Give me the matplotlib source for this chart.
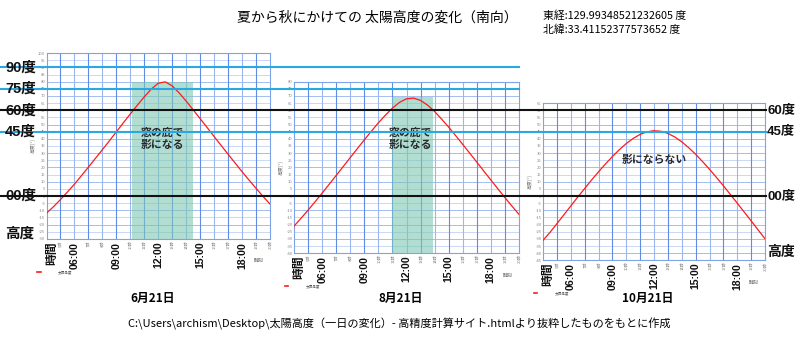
import matplotlib
matplotlib.use("Agg")
import matplotlib.pyplot as plt
from matplotlib.lines import Line2D
from matplotlib import transforms

plt.rcParams['font.family'] = ['Noto Sans CJK JP', 'DejaVu Sans']

# time of day (hours), every 30 minutes from 4:00 to 20:00
times = [4.0, 4.5, 5.0, 5.5, 6.0, 6.5, 7.0, 7.5, 8.0, 8.5, 9.0, 9.5, 10.0, 10.5,
         11.0, 11.5, 12.0, 12.5, 13.0, 13.5, 14.0, 14.5, 15.0, 15.5, 16.0, 16.5,
         17.0, 17.5, 18.0, 18.5, 19.0, 19.5, 20.0]

# solar altitude (degrees)
alt_jun = [-12.0, -7.5, -2.5, 2.8, 8.3, 14.2, 20.2, 26.3, 32.4, 38.6, 44.9, 51.2,
           57.4, 63.5, 69.4, 74.8, 78.9, 79.9, 77.0, 72.1, 66.4, 60.3, 54.1, 47.9,
           41.6, 35.4, 29.2, 23.1, 17.0, 11.1, 5.4, -0.3, -5.6]
alt_aug = [-21.1, -15.6, -9.9, -4.0, 2.0, 8.2, 14.4, 20.6, 26.9, 33.1, 39.3, 45.3,
           51.2, 56.6, 61.5, 65.5, 68.0, 68.5, 66.9, 63.6, 59.1, 53.8, 48.2, 42.2,
           36.1, 29.9, 23.7, 17.4, 11.2, 5.0, -1.1, -7.1, -12.9]
alt_oct = [-31.0, -25.5, -19.4, -13.2, -7.0, -0.8, 5.2, 11.2, 16.9, 22.4, 27.6, 32.4,
           36.7, 40.3, 43.1, 44.9, 45.7, 45.3, 43.8, 41.3, 37.9, 33.8, 29.2, 24.1,
           18.7, 13.0, 7.2, 1.1, -5.0, -11.2, -17.4, -23.7, -29.9]

dates = ['6月21日', '8月21日', '10月21日']
series = [alt_jun, alt_aug, alt_oct]
ylims = [(-30, 100), (-40, 80), (-45, 65)]

# hours where the eaves shade the window (None = no shade)
shade_start = [10.1, 10.95, None]
shade_end = [14.5, 13.85, None]
shade_top = [80, 69, None]
notes = ['窓の庇で\n影になる', '窓の庇で\n影になる', '影にならない']
note_pos = [(12.3, 40), (12.3, 40), (12.0, 25)]

major_hours = [6, 9, 12, 15, 18]
major_labels = ['06:00', '09:00', '12:00', '15:00', '18:00']

ref_vals = [90, 75, 60, 45, 0]
ref_labels = ['90度', '75度', '60度', '45度', '00度']
ref_colors = ['#2aa8e2', '#2aa8e2', '#111111', '#2aa8e2', '#111111']
ref_end_px = [519, 519, 766, 766, 766]
right_labels = {60: '60度', 45: '45度', 0: '00度'}

W, H = 798, 340
fig = plt.figure(figsize=(W / 100, H / 100), dpi=100)
fig.patch.set_facecolor('white')

panel_px = [(46.5, 270), (294, 519), (543, 765)]
zero_py = 196.0
ppu = 1.429  # pixels per degree

narrow = ['Liberation Sans Narrow', 'Liberation Sans', 'Noto Sans CJK JP']
axes = []
for i, (x0, x1) in enumerate(panel_px):
    ymin, ymax = ylims[i]
    top = zero_py - ymax * ppu
    bot = zero_py - ymin * ppu
    ax = fig.add_axes([x0 / W, 1 - bot / H, (x1 - x0) / W, (bot - top) / H])
    axes.append(ax)
    ax.set_xlim(4, 20)
    ax.set_ylim(ymin, ymax)

    for v in range(ymin, ymax + 1, 5):
        c = '#93b3ee' if v % 10 == 0 else '#bfd2f5'
        ax.axhline(v, color=c, lw=0.6, zorder=1)
    for h in range(5, 20):
        c = '#5f8ce6' if h % 2 == 1 else '#9ab8ef'
        ax.axvline(h, color=c, lw=0.8, zorder=1)
    for s in ax.spines.values():
        s.set_color('#7ea3ea')
        s.set_linewidth(0.8)

    if shade_start[i] is not None:
        ax.fill_between([shade_start[i], shade_end[i]], ymin, shade_top[i],
                        color='#7fc8b4', alpha=0.6, lw=0, zorder=1.5)

    ax.plot(times, series[i], color='#ff1a1a', lw=0.9, zorder=3)

    nx, ny = note_pos[i]
    ax.text(nx, ny, notes[i], ha='center', va='center', fontsize=7.8,
            color='#2a2a2a', fontweight='bold', linespacing=1.15, zorder=4)

    yt = list(range(ymin, ymax + 1, 5))
    ax.set_yticks(yt)
    ax.set_yticklabels([str(v) for v in yt])
    hrs = [h for h in range(5, 21) if h not in major_hours]
    ax.set_xticks(hrs)
    ax.set_xticklabels([f'{h}時' for h in hrs], rotation=90)
    ax.tick_params(length=0, labelsize=3, colors='#888888', pad=1)

    ax.text(-0.06, 0.5, '高度(°)', transform=ax.transAxes, rotation=90,
            fontsize=3.5, color='#777777', ha='center', va='center')

    tx = transforms.blended_transform_factory(ax.transData, ax.transAxes)
    for h, lab in zip(major_hours, major_labels):
        ax.text(h, -0.015, lab, transform=tx, rotation=90, ha='center', va='top',
                fontsize=7.6, fontweight='bold', family=narrow, color='#111111')
    ax.text(4.35, -0.015, '時間', transform=tx, rotation=90, ha='center', va='top',
            fontsize=8.5, fontweight='bold', color='#111111')
    # small legend entry for the altitude curve, 33 px under the frame
    y_leg = -33 / (bot - top)
    ax.plot([3.35, 3.6], [y_leg, y_leg], transform=tx, color='#ff1a1a',
            lw=1.2, clip_on=False)
    ax.text(4.85, y_leg, '太陽高度', transform=tx, ha='left', va='center',
            fontsize=2.6, color='#555555')
    ax.text(19.2, -22 / (bot - top), '時刻', transform=tx, ha='center',
            va='center', fontsize=3.5, color='#555555')

    fig.text(((x0 + x1) / 2 - 6) / W, 1 - 298 / H, dates[i], ha='center',
             va='center', fontsize=8.5, fontweight='bold')

# reference altitude lines across the whole sheet
ref_tr = transforms.blended_transform_factory(fig.transFigure, axes[0].transData)
for v, lab, c, xe in zip(ref_vals, ref_labels, ref_colors, ref_end_px):
    fig.add_artist(Line2D([0, xe / W], [v, v], transform=ref_tr, color=c,
                          lw=1.5, zorder=5))
    fig.text(5 / W, v, lab, transform=ref_tr, ha='left', va='center',
             fontsize=10.5, fontweight='bold', family=narrow, color='#111111',
             zorder=6)
    if v in right_labels:
        fig.text(767 / W, v, right_labels[v], transform=ref_tr, ha='left',
                 va='center', fontsize=9.5, fontweight='bold', family=narrow,
                 color='#111111')

fig.text(5 / W, 1 - 233 / H, '高度', ha='left', va='center', fontsize=10.5,
         fontweight='bold', color='#111111')
fig.text(767 / W, 1 - 252 / H, '高度', ha='left', va='center', fontsize=10,
         fontweight='bold', color='#111111')

fig.text(377 / W, 1 - 18 / H, '夏から秋にかけての 太陽高度の変化（南向）',
         ha='center', va='center', fontsize=10)
fig.text(543 / W, 1 - 16 / H, '東経:129.99348521232605 度', ha='left',
         va='center', fontsize=7.8)
fig.text(543 / W, 1 - 30 / H, '北緯:33.41152377573652 度', ha='left',
         va='center', fontsize=7.8)
fig.text(128 / W, 1 - 324 / H,
         'C:\\Users\\archism\\Desktop\\太陽高度（一日の変化）- 高精度計算サイト.htmlより抜粋したものをもとに作成',
         ha='left', va='center', fontsize=8)

fig.savefig('out.png', dpi=100)
